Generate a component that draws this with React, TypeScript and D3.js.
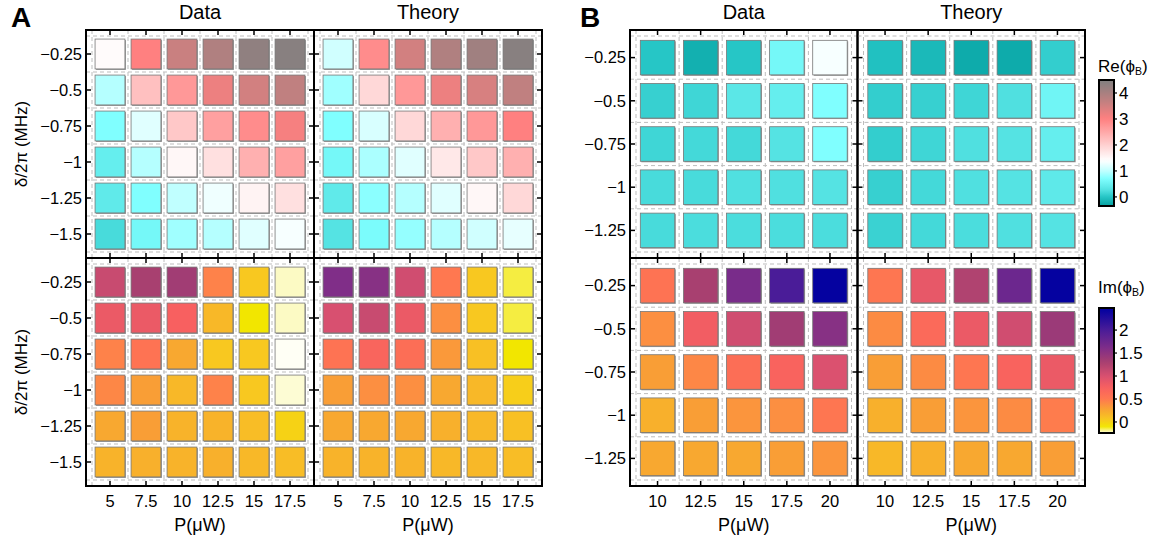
import React from "react";
import * as d3 from "d3";

const powerA = [5, 7.5, 10, 12.5, 15, 17.5];
const detuningA = [-0.25, -0.5, -0.75, -1, -1.25, -1.5];
const powerB = [10, 12.5, 15, 17.5, 20];
const detuningB = [-0.25, -0.5, -0.75, -1, -1.25];

// rows = detuning (top to bottom), cols = power
const reDataA = [
  [1.45, 3.0, 3.6, 3.9, 4.3, 4.4],
  [0.95, 2.2, 2.7, 3.2, 3.5, 3.7],
  [0.7, 1.2, 2.1, 2.6, 2.85, 3.1],
  [0.45, 0.95, 1.5, 1.8, 2.4, 2.6],
  [0.4, 0.7, 1.0, 1.3, 1.55, 1.8],
  [0.2, 0.6, 0.85, 0.95, 1.2, 1.35],
];
const reTheoryA = [
  [1.1, 2.85, 3.5, 3.9, 4.1, 4.4],
  [0.85, 1.9, 2.7, 3.2, 3.45, 3.7],
  [0.7, 1.15, 1.9, 2.4, 2.7, 3.0],
  [0.6, 0.9, 1.2, 1.7, 2.1, 2.4],
  [0.4, 0.75, 0.95, 1.2, 1.5, 1.9],
  [0.3, 0.65, 0.8, 0.95, 1.1, 1.25],
];
const imDataA = [
  [1.1, 1.3, 1.35, 0.45, 0.05, -0.22],
  [0.85, 0.85, 0.75, 0.15, -0.1, -0.22],
  [0.45, 0.55, 0.25, 0.05, 0.05, -0.25],
  [0.42, 0.3, 0.15, 0.45, 0.05, -0.23],
  [0.25, 0.3, 0.18, 0.18, 0.12, 0.0],
  [0.18, 0.2, 0.18, 0.2, 0.15, 0.12],
];
const imTheoryA = [
  [1.6, 1.55, 1.05, 0.5, 0.05, -0.14],
  [1.0, 1.1, 0.85, 0.38, 0.05, -0.14],
  [0.55, 0.7, 0.6, 0.33, 0.1, -0.1],
  [0.3, 0.38, 0.38, 0.25, 0.15, 0.02],
  [0.25, 0.25, 0.25, 0.2, 0.15, 0.1],
  [0.18, 0.18, 0.18, 0.15, 0.15, 0.12],
];
const reDataB = [
  [0.0, -0.2, 0.0, 0.6, 1.35],
  [0.1, 0.15, 0.35, 0.45, 0.7],
  [0.15, 0.18, 0.18, 0.3, 0.7],
  [0.2, 0.2, 0.25, 0.25, 0.3],
  [0.2, 0.22, 0.22, 0.22, 0.22],
];
const reTheoryB = [
  [-0.05, -0.12, -0.25, -0.25, 0.08],
  [0.08, 0.1, 0.15, 0.25, 0.55],
  [0.08, 0.15, 0.25, 0.3, 0.45],
  [0.1, 0.18, 0.25, 0.3, 0.38],
  [0.12, 0.18, 0.22, 0.25, 0.3],
];
const imDataB = [
  [0.55, 1.3, 1.65, 2.0, 2.45],
  [0.38, 0.8, 1.05, 1.35, 1.55],
  [0.3, 0.42, 0.6, 0.72, 0.98],
  [0.2, 0.3, 0.35, 0.38, 0.52],
  [0.25, 0.25, 0.25, 0.3, 0.35],
];
const imTheoryB = [
  [0.52, 0.88, 1.25, 1.75, 2.45],
  [0.4, 0.65, 0.85, 1.05, 1.4],
  [0.3, 0.4, 0.52, 0.72, 0.85],
  [0.2, 0.3, 0.35, 0.4, 0.48],
  [0.15, 0.2, 0.25, 0.25, 0.3],
];

const reTicks = [0, 1, 2, 3, 4];
const imTicks = [0, 0.5, 1, 1.5, 2];

const reStops = [-0.35, 0, 0.25, 0.7, 1.0, 1.4, 2.0, 3.0, 3.7, 4.5];
const reColors = ["#05a0a0", "#26c6c6", "#50e0e0", "#80ffff", "#c0ffff", "#ffffff", "#ffd0d0", "#ff8080", "#c08080", "#808080"];
const imStops = [-0.25, -0.1, 0.05, 0.25, 0.5, 0.75, 1.0, 1.3, 1.6, 2.0, 2.48];
const imColors = ["#fffff5", "#f2e600", "#f8c820", "#f8a830", "#ff7850", "#f86060", "#d85070", "#a84070", "#802e88", "#4a1c98", "#0000a0"];

const reScale = d3.scaleLinear<string>().domain(reStops).range(reColors).interpolate(d3.interpolateRgb).clamp(true);
const imScale = d3.scaleLinear<string>().domain(imStops).range(imColors).interpolate(d3.interpolateRgb).clamp(true);

const FONT = "'Liberation Sans', Arial, Helvetica, sans-serif";
const fmt = (v: number) => String(v).replace("-", "\u2212");

type SubProps = {
  x0: number; x1: number; y0: number; y1: number;
  xs: number[]; ys: number[]; vals: number[][];
  cmap: (v: number) => string;
  showY: boolean; showX: boolean;
  cellFrac: number;
};

function Sub({ x0, x1, y0, y1, xs, ys, vals, cmap, showY, showX, cellFrac }: SubProps) {
  const dx = 2.5, dy = 0.25, pad = 6;
  const x = d3.scaleLinear().domain([xs[0] - dx / 2, xs[xs.length - 1] + dx / 2]).range([x0 + pad, x1 - pad]);
  const y = d3.scaleLinear().domain([ys[0] + dy / 2, ys[ys.length - 1] - dy / 2]).range([y0 + pad, y1 - pad]);
  const sx = Math.abs(x(xs[0] + dx) - x(xs[0]));
  const sy = Math.abs(y(ys[0] - dy) - y(ys[0]));
  const cw = sx * cellFrac, ch = sy * cellFrac;
  const xb = d3.range(xs.length + 1).map((k) => x(xs[0] - dx / 2 + k * dx));
  const yb = d3.range(ys.length + 1).map((k) => y(ys[0] + dy / 2 - k * dy));
  const tl = 5;
  return (
    <g>
      {xb.map((v, i) => (
        <line key={"gx" + i} x1={v} x2={v} y1={y0} y2={y1} stroke="#bdbdbd" strokeWidth={1} strokeDasharray="4,3" />
      ))}
      {yb.map((v, i) => (
        <line key={"gy" + i} x1={x0} x2={x1} y1={v} y2={v} stroke="#bdbdbd" strokeWidth={1} strokeDasharray="4,3" />
      ))}
      {ys.map((yy, r) =>
        xs.map((xx, c) => (
          <g key={r + "-" + c}>
            <rect x={x(xx) - cw / 2 + 1} y={y(yy) - ch / 2 + 1} width={cw} height={ch} fill="#555" opacity={0.6} />
            <rect x={x(xx) - cw / 2} y={y(yy) - ch / 2} width={cw} height={ch} fill={cmap(vals[r][c])} stroke="#777" strokeWidth={0.8} />
          </g>
        ))
      )}
      {xs.map((xx, i) => (
        <g key={"tx" + i}>
          <line x1={x(xx)} x2={x(xx)} y1={y0} y2={y0 + tl} stroke="#000" strokeWidth={1.5} />
          <line x1={x(xx)} x2={x(xx)} y1={y1} y2={y1 - tl} stroke="#000" strokeWidth={1.5} />
        </g>
      ))}
      {ys.map((yy, i) => (
        <g key={"ty" + i}>
          <line x1={x0} x2={x0 + tl} y1={y(yy)} y2={y(yy)} stroke="#000" strokeWidth={1.5} />
          <line x1={x1} x2={x1 - tl} y1={y(yy)} y2={y(yy)} stroke="#000" strokeWidth={1.5} />
        </g>
      ))}
      <rect x={x0} y={y0} width={x1 - x0} height={y1 - y0} fill="none" stroke="#000" strokeWidth={2} />
      {showY &&
        ys.map((yy, i) => (
          <text key={"ly" + i} x={x0 - 4} y={y(yy)} dy="0.35em" textAnchor="end" fontSize={16.5} fontFamily={FONT}>
            {fmt(yy)}
          </text>
        ))}
      {showX &&
        xs.map((xx, i) => (
          <text key={"lx" + i} x={x(xx)} y={y1 + 21} textAnchor="middle" fontSize={16.5} fontFamily={FONT}>
            {fmt(xx)}
          </text>
        ))}
      {showX && (
        <text x={(x0 + x1) / 2} y={y1 + 45} textAnchor="middle" fontSize={18} fontFamily={FONT}>
          P(μW)
        </text>
      )}
    </g>
  );
}

function ColorBar({ x0, y0, y1, stops, scale, ticks, id, label, labelY }: any) {
  const w = 15;
  const lo = stops[0], hi = stops[stops.length - 1];
  const ys = d3.scaleLinear().domain([lo, hi]).range([y1, y0]);
  const gs = d3.range(0, 41).map((k) => lo + ((hi - lo) * k) / 40);
  return (
    <g>
      <defs>
        <linearGradient id={id} x1="0" y1="1" x2="0" y2="0">
          {gs.map((v, i) => (
            <stop key={i} offset={`${(i / 40) * 100}%`} stopColor={scale(v)} />
          ))}
        </linearGradient>
      </defs>
      <text x={x0 - 1} y={labelY} fontSize={17} fontFamily={FONT}>
        {label}(ϕ<tspan fontSize={10.5} dy={3}>B</tspan><tspan dy={-3}>)</tspan>
      </text>
      <rect x={x0} y={y0} width={w} height={y1 - y0} fill={`url(#${id})`} stroke="#000" strokeWidth={2} />
      {ticks.map((t: number, i: number) => (
        <g key={i}>
          <line x1={x0 + w} x2={x0 + w + 3} y1={ys(t)} y2={ys(t)} stroke="#000" strokeWidth={1.2} />
          <text x={x0 + w + 5} y={ys(t)} dy="0.35em" fontSize={17} fontFamily={FONT}>
            {String(t)}
          </text>
        </g>
      ))}
    </g>
  );
}

export default function App() {
  const aX = [86, 314, 542];
  const bX = [630, 857.5, 1085];
  const rY = [30, 258, 486];
  return (
    <svg width={1156} height={539} style={{ position: "absolute", left: 0, top: 0, background: "#fff" }}>
      <text x={11} y={27} fontSize={28} fontWeight="bold" fontFamily={FONT}>A</text>
      <text x={580} y={27} fontSize={28} fontWeight="bold" fontFamily={FONT}>B</text>
      <text x={(aX[0] + aX[1]) / 2} y={19} textAnchor="middle" fontSize={20} fontFamily={FONT}>Data</text>
      <text x={(aX[1] + aX[2]) / 2} y={19} textAnchor="middle" fontSize={20} fontFamily={FONT}>Theory</text>
      <text x={(bX[0] + bX[1]) / 2} y={19} textAnchor="middle" fontSize={20} fontFamily={FONT}>Data</text>
      <text x={(bX[1] + bX[2]) / 2} y={19} textAnchor="middle" fontSize={20} fontFamily={FONT}>Theory</text>
      {[0, 1].map((i) => (
        <text key={i} transform={`translate(27,${(rY[i] + rY[i + 1]) / 2}) rotate(-90)`} textAnchor="middle" fontSize={17} fontFamily={FONT}>
          δ/2π (MHz)
        </text>
      ))}

      <Sub x0={aX[0]} x1={aX[1]} y0={rY[0]} y1={rY[1]} xs={powerA} ys={detuningA} vals={reDataA} cmap={reScale} showY showX={false} cellFrac={0.83} />
      <Sub x0={aX[1]} x1={aX[2]} y0={rY[0]} y1={rY[1]} xs={powerA} ys={detuningA} vals={reTheoryA} cmap={reScale} showY={false} showX={false} cellFrac={0.83} />
      <Sub x0={aX[0]} x1={aX[1]} y0={rY[1]} y1={rY[2]} xs={powerA} ys={detuningA} vals={imDataA} cmap={imScale} showY showX cellFrac={0.83} />
      <Sub x0={aX[1]} x1={aX[2]} y0={rY[1]} y1={rY[2]} xs={powerA} ys={detuningA} vals={imTheoryA} cmap={imScale} showY={false} showX cellFrac={0.83} />

      <Sub x0={bX[0]} x1={bX[1]} y0={rY[0]} y1={rY[1]} xs={powerB} ys={detuningB} vals={reDataB} cmap={reScale} showY showX={false} cellFrac={0.8} />
      <Sub x0={bX[1]} x1={bX[2]} y0={rY[0]} y1={rY[1]} xs={powerB} ys={detuningB} vals={reTheoryB} cmap={reScale} showY={false} showX={false} cellFrac={0.8} />
      <Sub x0={bX[0]} x1={bX[1]} y0={rY[1]} y1={rY[2]} xs={powerB} ys={detuningB} vals={imDataB} cmap={imScale} showY showX cellFrac={0.8} />
      <Sub x0={bX[1]} x1={bX[2]} y0={rY[1]} y1={rY[2]} xs={powerB} ys={detuningB} vals={imTheoryB} cmap={imScale} showY={false} showX cellFrac={0.8} />

      <ColorBar x0={1099} y0={80} y1={206} stops={[-0.35, 4.5]} scale={reScale} ticks={reTicks} id="reGrad" label="Re" labelY={72} />
      <ColorBar x0={1099} y0={308} y1={433} stops={[-0.24, 2.48]} scale={imScale} ticks={imTicks} id="imGrad" label="Im" labelY={293} />
    </svg>
  );
}
